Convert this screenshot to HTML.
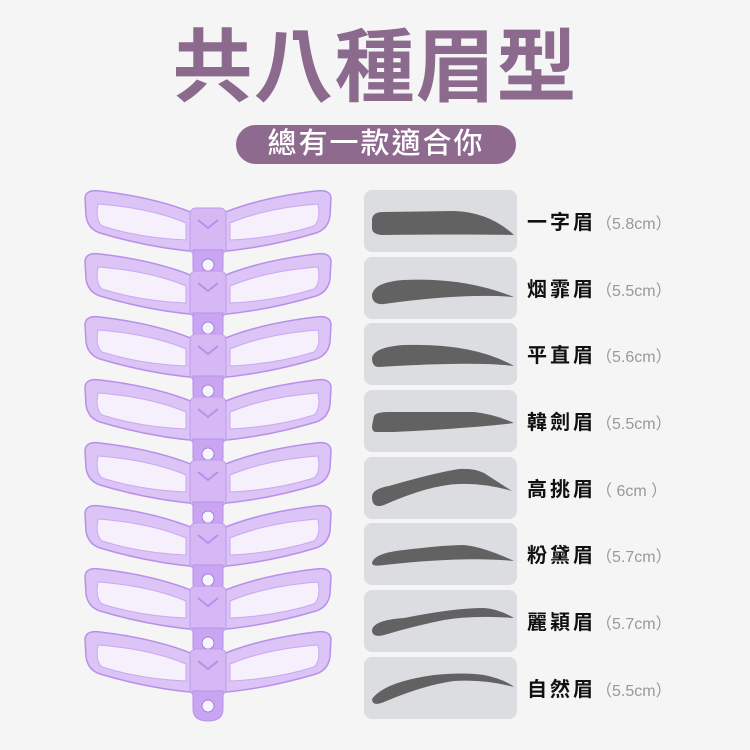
<!DOCTYPE html>
<html><head><meta charset="utf-8"><style>
body{margin:0;width:750px;height:750px;background:#f5f5f5;position:relative;overflow:hidden;font-family:"Liberation Sans","Noto Sans CJK TC",sans-serif}
.t{position:absolute;left:0;width:750px;top:18px;text-align:center;font-size:80px;font-weight:bold;color:#8c6a8d;letter-spacing:1px;line-height:100px}
.pill{position:absolute;left:236px;top:125px;width:280px;height:39px;border-radius:20px;background:#8e6a8f;color:#fff;font-size:29px;font-weight:500;line-height:39px;text-align:center;letter-spacing:2px}
.lb{position:absolute;left:527px;font-size:20px;font-weight:bold;color:#111;letter-spacing:3px;line-height:30px;white-space:nowrap}
.lb span{font-size:16px;font-weight:normal;color:#999;letter-spacing:0}
</style></head><body>
<div class="t">共八種眉型</div>
<div class="pill">總有一款適合你</div>
<svg width="750" height="750" style="position:absolute;left:0;top:0">
<defs>
<g id="st">
<path d="M85,198 Q86,189 100,191 Q160,198 200,216 L200,252 Q150,248 100,233 Q88,229 86,216 Z" fill="#dcc4f7" stroke="#b890ea" stroke-width="1.5"/>
<path d="M331,198 Q330,189 316,191 Q256,198 216,216 L216,252 Q266,248 316,233 Q328,229 330,216 Z" fill="#dcc4f7" stroke="#b890ea" stroke-width="1.5"/>
<path d="M98,204 Q150,208 186,223 L186,240 Q140,238 102,226 Q95,220 98,204 Z" fill="#f6f0fc" stroke="#c9a8f0"/>
<path d="M318,204 Q266,208 230,223 L230,240 Q276,238 314,226 Q321,220 318,204 Z" fill="#f6f0fc" stroke="#c9a8f0"/>
<rect x="190" y="208" width="36" height="46" rx="6" fill="#d6b8f5" stroke="#c09aec"/>
<path d="M193,250 L223,250 L223,268 Q223,280 208,280 Q193,280 193,268 Z" fill="#caa6f2" stroke="#b890ea"/>
<circle cx="208" cy="265" r="6" fill="#f8f4fc" stroke="#a67de0"/>
<path d="M198,220 L208,228 L218,220" fill="none" stroke="#b890ea" stroke-width="2"/>
</g>
</defs>
<use href="#st" transform="translate(0,0)"/>
<use href="#st" transform="translate(0,63)"/>
<use href="#st" transform="translate(0,126)"/>
<use href="#st" transform="translate(0,189)"/>
<use href="#st" transform="translate(0,252)"/>
<use href="#st" transform="translate(0,315)"/>
<use href="#st" transform="translate(0,378)"/>
<use href="#st" transform="translate(0,441)"/>
<g fill="#dcdde1">
<rect x="364" y="190" width="153" height="62" rx="8"/>
<rect x="364" y="257" width="153" height="62" rx="8"/>
<rect x="364" y="323" width="153" height="62" rx="8"/>
<rect x="364" y="390" width="153" height="62" rx="8"/>
<rect x="364" y="457" width="153" height="62" rx="8"/>
<rect x="364" y="523" width="153" height="62" rx="8"/>
<rect x="364" y="590" width="153" height="62" rx="8"/>
<rect x="364" y="657" width="153" height="62" rx="8"/>
</g>
<g fill="#626262">
<path transform="translate(364,190)" d="M8,30 Q8,22 20,22 L90,21 Q125,22 150,45 Q100,44 20,45 Q8,45 8,38 Z"/>
<path transform="translate(364,257)" d="M8,38 Q10,25 40,23 Q100,20 150,40 Q100,36 20,47 Q8,48 8,38 Z"/>
<path transform="translate(364,323)" d="M8,35 Q10,24 40,22 Q110,20 150,43 Q110,38 15,44 Q8,44 8,35 Z"/>
<path transform="translate(364,390)" d="M10,26 Q12,22 25,22 L110,22 Q130,24 150,33 Q110,38 30,42 L12,42 Q8,42 8,36 Z"/>
<path transform="translate(364,457)" d="M8,40 Q8,32 25,29 Q70,16 95,12 Q110,11 120,16 L148,34 Q120,26 95,27 Q65,28 20,48 Q8,52 8,40 Z"/>
<path transform="translate(364,523)" d="M8,40 Q10,30 40,27 Q80,22 100,22 Q120,24 150,38 Q100,33 20,42 Q8,44 8,40 Z"/>
<path transform="translate(364,590)" d="M8,40 Q10,30 40,28 Q90,18 120,18 Q135,19 150,28 Q110,25 80,30 Q50,36 20,45 Q8,48 8,40 Z"/>
<path transform="translate(364,657)" d="M8,42 Q20,25 70,18 Q100,15 120,18 Q140,22 150,30 Q120,22 90,24 Q60,28 20,45 Q8,50 8,42 Z"/>
</g>
</svg>
<div class="lb" style="top:208px">一字眉<span>（5.8cm）</span></div>
<div class="lb" style="top:275px">烟霏眉<span>（5.5cm）</span></div>
<div class="lb" style="top:341px">平直眉<span>（5.6cm）</span></div>
<div class="lb" style="top:408px">韓劍眉<span>（5.5cm）</span></div>
<div class="lb" style="top:475px">高挑眉<span>（ 6cm ）</span></div>
<div class="lb" style="top:541px">粉黛眉<span>（5.7cm）</span></div>
<div class="lb" style="top:608px">麗穎眉<span>（5.7cm）</span></div>
<div class="lb" style="top:675px">自然眉<span>（5.5cm）</span></div>
</body></html>
